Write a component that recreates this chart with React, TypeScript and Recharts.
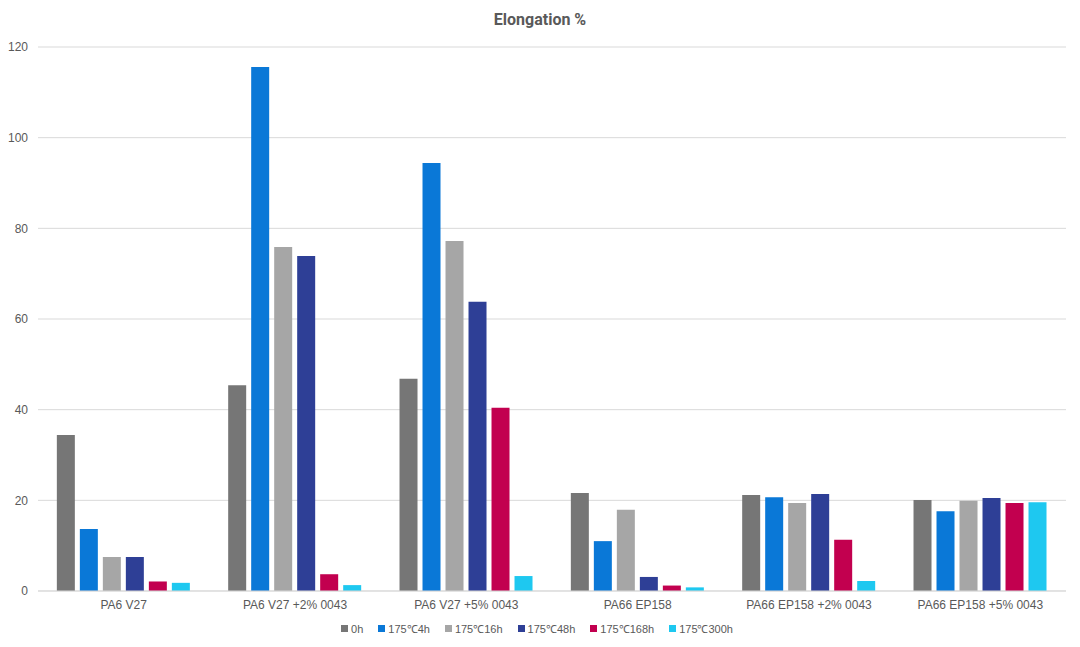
import { BarChart, Bar, XAxis, YAxis, CartesianGrid, Legend } from "recharts";

const categories = [
  "PA6 V27",
  "PA6 V27 +2% 0043",
  "PA6 V27 +5% 0043",
  "PA66 EP158",
  "PA66 EP158 +2% 0043",
  "PA66 EP158 +5% 0043",
];

const h0 = [34.4, 45.4, 46.8, 21.6, 21.2, 20.1];
const c4h = [13.7, 115.6, 94.4, 11.0, 20.7, 17.6];
const c16h = [7.5, 75.9, 77.2, 17.9, 19.4, 19.9];
const c48h = [7.5, 73.9, 63.8, 3.1, 21.4, 20.5];
const c168h = [2.1, 3.7, 40.4, 1.2, 11.3, 19.4];
const c300h = [1.8, 1.3, 3.3, 0.8, 2.2, 19.6];

const yTicks = [0, 20, 40, 60, 80, 100, 120];

const series = [
  { key: "0h", values: h0, color: "#767676" },
  { key: "175℃4h", values: c4h, color: "#0a78d7" },
  { key: "175℃16h", values: c16h, color: "#a6a6a6" },
  { key: "175℃48h", values: c48h, color: "#2e3f96" },
  { key: "175℃168h", values: c168h, color: "#c2004f" },
  { key: "175℃300h", values: c300h, color: "#1ec8f0" },
];

const data = categories.map((name, i) => {
  const row: any = { name };
  series.forEach((s) => {
    row[s.key] = s.values[i];
  });
  return row;
});

const font = "'Liberation Sans', Arial, sans-serif";

// legend drawn in series order (recharts sorts by default)
const renderLegend = () => (
  <div style={{ display: "flex", justifyContent: "center", gap: 15, fontSize: 11, fontFamily: font, color: "#595959", paddingLeft: 8 }}>
    {series.map((s) => (
      <span key={s.key} style={{ display: "flex", alignItems: "center" }}>
        <span style={{ display: "inline-block", width: 7, height: 7, background: s.color, marginRight: 3 }} />
        {s.key}
      </span>
    ))}
  </div>
);

const App = () => {
  return (
    <div style={{ position: "absolute", left: 0, top: 0, width: 1080, height: 647, background: "#fff", fontFamily: font }}>
      <div
        style={{
          position: "absolute",
          top: 10,
          left: 0,
          width: 1080,
          textAlign: "center",
          fontFamily: "Roboto, sans-serif",
          fontWeight: 700,
          fontSize: 16,
          color: "#595959",
        }}
      >
        Elongation %
      </div>
      <BarChart
        width={1080}
        height={647}
        data={data}
        margin={{ top: 47, right: 14, left: 0, bottom: 11 }}
        barCategoryGap="11%"
        barGap={5}
      >
        <CartesianGrid vertical={false} stroke="#d9d9d9" />
        <XAxis
          dataKey="name"
          tickLine={false}
          axisLine={{ stroke: "#d9d9d9" }}
          tick={{ fill: "#595959", fontSize: 12, fontFamily: font }}
          tickMargin={3}
        />
        <YAxis
          width={38}
          domain={[0, 120]}
          ticks={yTicks}
          axisLine={false}
          tickLine={false}
          tickSize={0}
          tickMargin={10}
          tick={{ fill: "#595959", fontSize: 12, fontFamily: font }}
        />
        <Legend verticalAlign="bottom" content={renderLegend} />
        {series.map((s) => (
          <Bar key={s.key} dataKey={s.key} fill={s.color} isAnimationActive={false} />
        ))}
      </BarChart>
    </div>
  );
};

export default App;
